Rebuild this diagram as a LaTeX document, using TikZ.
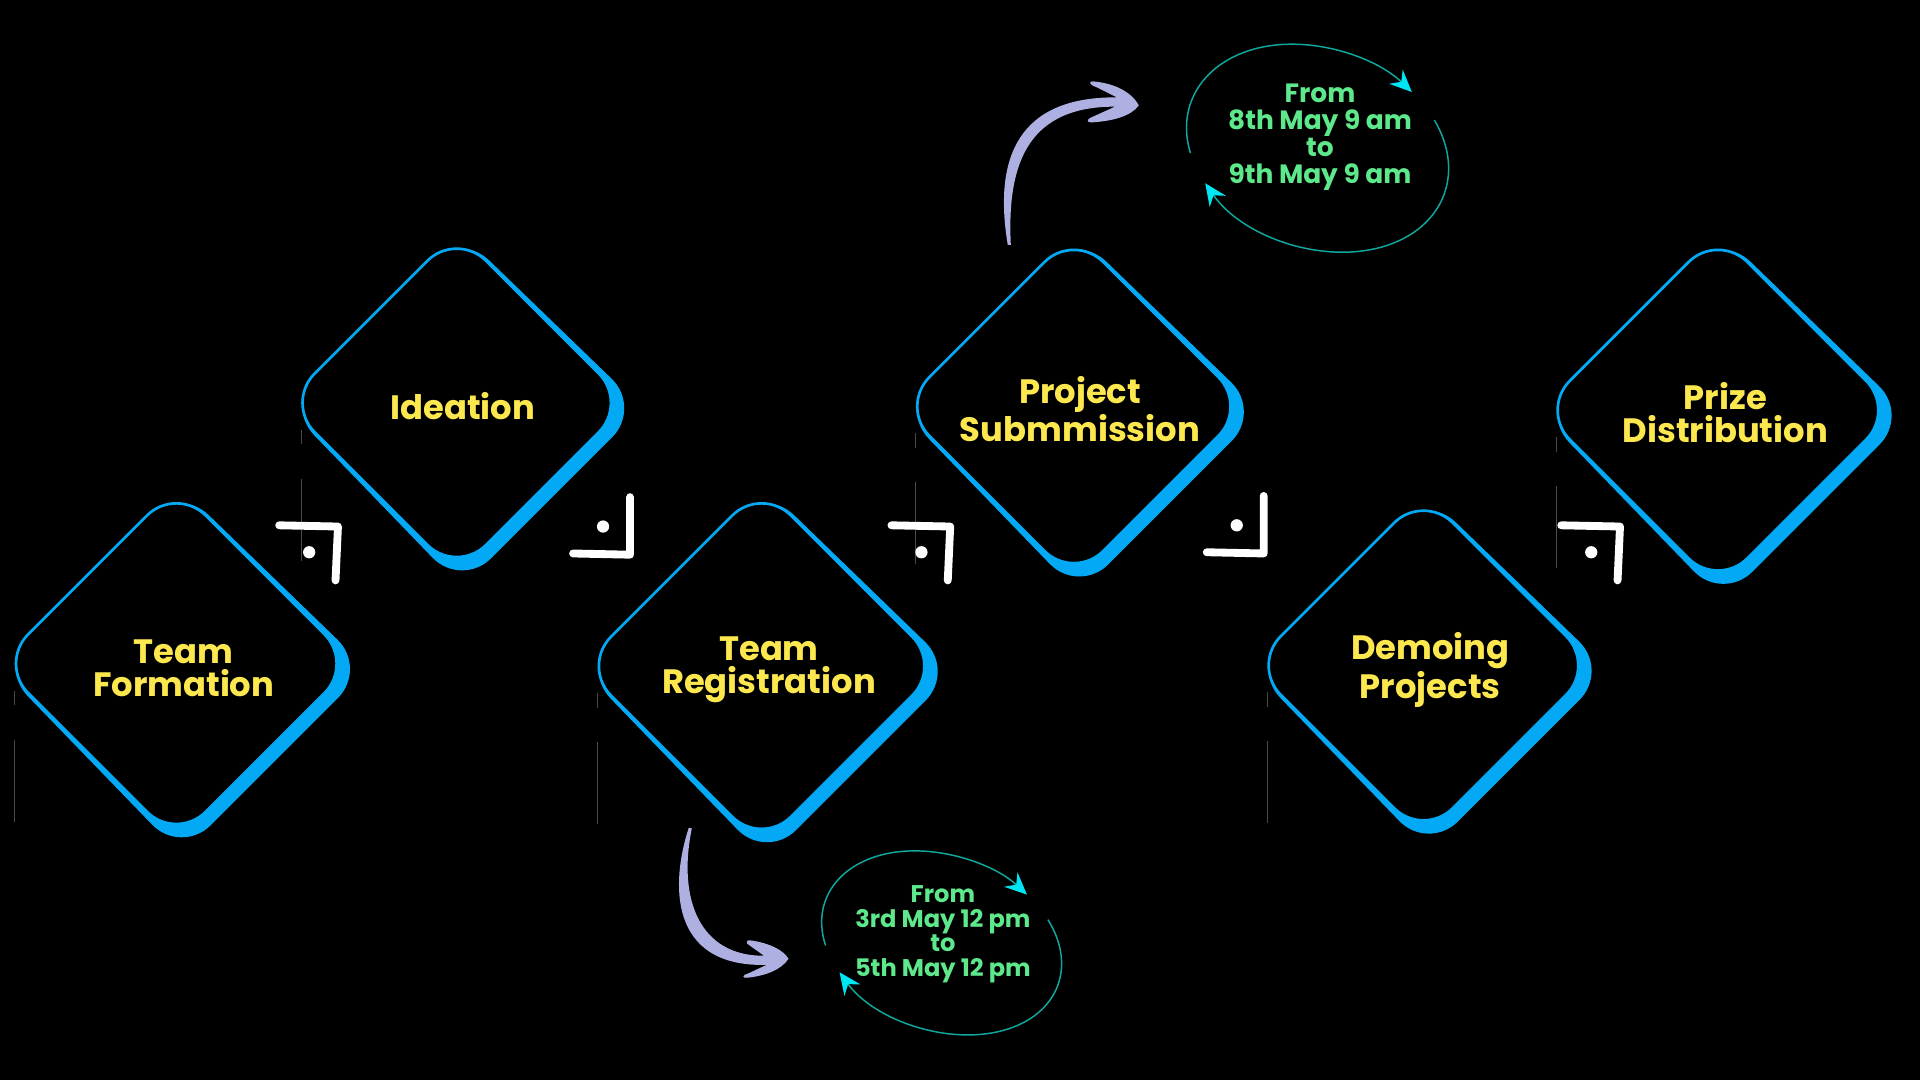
\documentclass[tikz,border=0pt]{standalone}
\usepackage{fontspec}
\newfontfamily\labelfont{Poppins}
\usetikzlibrary{arrows.meta}
\definecolor{stageblue}{HTML}{03A9F4}
\definecolor{stageyellow}{HTML}{FCE84E}
\definecolor{dategreen}{HTML}{5EE88C}
\definecolor{swoosh}{HTML}{ADB0E0}
\definecolor{ringteal}{HTML}{10A89E}
\definecolor{ringcyan}{HTML}{00E5F2}
\definecolor{faint}{HTML}{4A4A4A}
\tikzset{
  stagetext/.style={font=\labelfont\bfseries\fontsize{13.8}{13.5}\selectfont, text=stageyellow, align=center, inner sep=0pt},
  datetexttop/.style={font=\labelfont\bfseries\fontsize{10.8}{11}\selectfont, text=dategreen, align=center, inner sep=0pt},
  datetextbot/.style={font=\labelfont\bfseries\fontsize{9.85}{10}\selectfont, text=dategreen, align=center, inner sep=0pt},
  marker/.style={draw=white, line width=3.2pt, line cap=round, line join=round},
  ring/.style={draw=ringteal, line width=0.6pt, -{Stealth[length=9pt,width=8pt,inset=3pt,color=ringcyan]}},
  faintline/.style={draw=faint, line width=0.4pt},
}
\newcommand\StageBox[3]{%
  \fill[stageblue, rounded corners=17pt] ({#1+2},{#2-#3}) -- ({#1+#3+11},{#2+4}) -- ({#1+4},{#2+#3+11}) -- ({#1-#3},{#2+2}) -- cycle;
  \filldraw[fill=black, draw=stageblue, line width=1.1pt, rounded corners=17pt] (#1,{#2-#3}) -- ({#1+#3},#2) -- (#1,{#2+#3}) -- ({#1-#3},#2) -- cycle;
  \draw[faintline] ({#1-#3+13},{#2+22}) -- ({#1-#3+13},{#2+34}) ({#1-#3+13},{#2+62}) -- ({#1-#3+13},{#2+129});
}
\newcommand\MarkDown[2]{%
  \draw[marker] (#1,#2) -- ({#1+48},{#2+1}) -- ({#1+46},{#2+45});
  \fill[white] ({#1+24.5},{#2+22}) circle[radius=5];
}
\newcommand\MarkUp[2]{%
  \draw[marker] ({#1+46.5},#2) -- ({#1+46.5},{#2+47}) -- (#1,{#2+46});
  \fill[white] ({#1+24.5},{#2+24}) circle[radius=5];
}
\begin{document}
\begin{tikzpicture}[x=0.5pt, y=-0.5pt]
  \fill[black] (0,0) rectangle (1568,882);
  \useasboundingbox (0,0) rectangle (1568,882);

  % stages
  \StageBox{144}{542}{145}
  \StageBox{373}{329}{140}
  \StageBox{622}{544}{147}
  \StageBox{877}{332}{142}
  \StageBox{1162.5}{543.5}{140.5}
  \StageBox{1403}{335}{145}

  \node[stagetext] (tf) at (150,546) {Team\\Formation};
  \node[stagetext] (idea) at (378,332) {Ideation};
  \node[stagetext] (treg) at (628,547) {Team\\Registration};
  \node[stagetext] (psub) at (882,334) {Project\\Submmission};
  \node[stagetext] (demo) at (1168,547) {Demoing\\Projects};
  \node[stagetext] (prize) at (1409,337) {Prize\\Distribution};

  % corner markers
  \MarkDown{228}{429}
  \MarkUp{468}{406}
  \MarkDown{728}{429}
  \MarkUp{985.5}{405}
  \MarkDown{1275}{429}

  % swoosh arrows
  \fill[swoosh] (823,200) .. controls (811,128) and (832,79) .. (912,79.5)
    -- (895,71) .. controls (889,69) and (889,66) .. (893,66.5)
    .. controls (910,68) and (924,75) .. (930,86)
    .. controls (924,95) and (908,99) .. (891,100)
    .. controls (887,100) and (888,97) .. (891,96)
    -- (910.6,87.1) .. controls (842,87) and (822,130) .. (825.5,200) -- cycle;
  \fill[swoosh] (562.5,676) .. controls (548,720) and (545,790) .. (626,788)
    -- (611,795) .. controls (606,796) and (606,799) .. (610,798.5)
    .. controls (625,797) and (638,792) .. (644,783)
    .. controls (640,776) and (628,770) .. (613,768)
    .. controls (609,767) and (609,771) .. (612,772)
    -- (624,780.5) .. controls (572,781) and (553,735) .. (565,676.5) -- cycle;

  % date rings
  \begin{scope}[shift={(1076,121)}, rotate=-20]
    \draw[ring] (151:110 and 81) arc[start angle=151, end angle=301, x radius=110, y radius=81];
    \draw[ring] (318:110 and 81) arc[start angle=318, end angle=494, x radius=110, y radius=81];
  \end{scope}
  \begin{scope}[shift={(769,770)}, rotate=-20]
    \draw[ring] (151:101 and 71) arc[start angle=151, end angle=301, x radius=101, y radius=71];
    \draw[ring] (318:101 and 71) arc[start angle=318, end angle=494, x radius=101, y radius=71];
  \end{scope}

  \node[datetexttop] (d1) at (1078,112) {From\\8th May 9 am\\to\\9th May 9 am};
  \node[datetextbot] (d2) at (770,763) {From\\3rd May 12 pm\\to\\5th May 12 pm};
\end{tikzpicture}
\end{document}
